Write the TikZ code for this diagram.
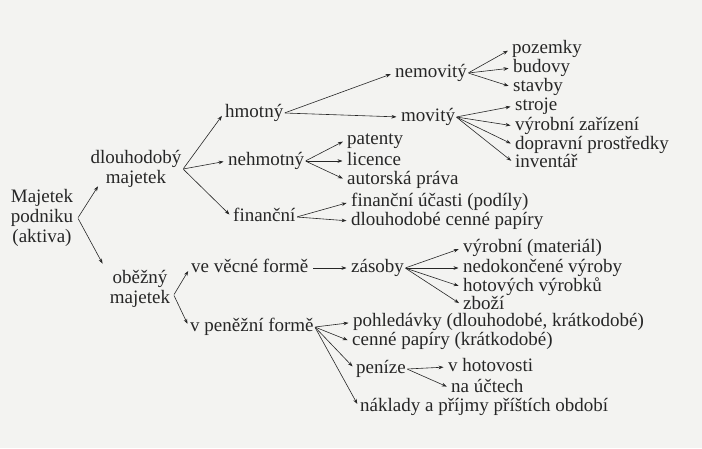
\documentclass[tikz,border=0pt]{standalone}
\usepackage{fontspec}
\setmainfont{Liberation Serif}
\usetikzlibrary{arrows.meta}
\definecolor{paper}{HTML}{F3F3F1}
\definecolor{ink}{HTML}{262626}
\tikzset{
  lbl/.style={anchor=west, inner sep=1pt, text height=10.5pt, text depth=2.5pt, text=ink, font=\fontsize{19}{20}\selectfont},
  mlbl/.style={anchor=center, inner sep=1.5pt, align=center, text=ink, font=\fontsize{19}{20}\selectfont},
  arr/.style={draw=ink, line width=0.6pt, -{Stealth[length=5pt,width=3.6pt]}, shorten >=3.5pt, shorten <=0.5pt}
}
\begin{document}
\begin{tikzpicture}[x=1pt,y=-1pt]
\fill[paper] (0,0) rectangle (702,448);
\useasboundingbox (0,0) rectangle (702,448);
% nodes
\node[mlbl] (mp) at (42,218) {Majetek\\podniku\\(aktiva)};
\node[mlbl] (dm) at (136,169) {dlouhodobý\\majetek};
\node[mlbl] (ob) at (140,289) {oběžný\\majetek};
\node[lbl] (hm) at (224,113) {hmotný};
\node[lbl] (nh) at (227,161) {nehmotný};
\node[lbl] (fi) at (232,217) {finanční};
\node[lbl] (nm) at (394,73) {nemovitý};
\node[lbl] (mo) at (400,117) {movitý};
\node[lbl] (pz) at (511,49) {pozemky};
\node[lbl] (bu) at (512,68) {budovy};
\node[lbl] (st) at (512,87) {stavby};
\node[lbl] (sr) at (514,106) {stroje};
\node[lbl] (vz) at (514,126) {výrobní zařízení};
\node[lbl] (dp) at (514,145) {dopravní prostředky};
\node[lbl] (iv) at (514,163) {inventář};
\node[lbl] (pa) at (346,140) {patenty};
\node[lbl] (li) at (346,161) {licence};
\node[lbl] (au) at (346,180) {autorská práva};
\node[lbl] (fu) at (350,202) {finanční účasti (podíly)};
\node[lbl] (dc) at (350,221) {dlouhodobé cenné papíry};
\node[lbl] (vv) at (190,268) {ve věcné formě};
\node[lbl] (zs) at (350,268) {zásoby};
\node[lbl] (vm) at (462,248) {výrobní (materiál)};
\node[lbl] (nv) at (462,268) {nedokončené výroby};
\node[lbl] (hv) at (462,287) {hotových výrobků};
\node[lbl] (zb) at (462,305) {zboží};
\node[lbl] (pf) at (189,327) {v peněžní formě};
\node[lbl] (ph) at (352,322.5) {pohledávky (dlouhodobé, krátkodobé)};
\node[lbl] (cp) at (351,341.5) {cenné papíry (krátkodobé)};
\node[lbl] (pe) at (355,369) {peníze};
\node[lbl] (ho) at (447,367) {v hotovosti};
\node[lbl] (nu) at (450,388) {na účtech};
\node[lbl] (nk) at (359,407) {náklady a příjmy příštích období};
% connectors
\draw[arr] ([xshift=3pt]mp.east) -- ([shift={(11,-6)}]dm.south west);
\draw[arr] ([xshift=3pt]mp.east) -- ([shift={(-4,-2)}]ob.north west);
\draw[arr] (dm.east) -- (hm.west);
\draw[arr] (dm.east) -- (nh.west);
\draw[arr] (dm.east) -- (fi.west);
\draw[arr] (hm.east) -- (nm.west);
\draw[arr] (hm.east) -- (mo.west);
\draw[arr] (nm.east) -- (pz.west);
\draw[arr] (nm.east) -- (bu.west);
\draw[arr] (nm.east) -- (st.west);
\draw[arr] (mo.east) -- (sr.west);
\draw[arr] (mo.east) -- (vz.west);
\draw[arr] (mo.east) -- (dp.west);
\draw[arr] (mo.east) -- (iv.west);
\draw[arr] (nh.east) -- (pa.west);
\draw[arr] (nh.east) -- (li.west);
\draw[arr] (nh.east) -- (au.west);
\draw[arr] (fi.east) -- (fu.west);
\draw[arr] (fi.east) -- (dc.west);
\draw[arr] ([shift={(2,6)}]ob.east) -- (vv.west);
\draw[arr] ([shift={(2,6)}]ob.east) -- (pf.west);
\draw[arr] ([xshift=3pt]vv.east) -- (zs.west);
\draw[arr] (zs.east) -- (vm.west);
\draw[arr] (zs.east) -- (nv.west);
\draw[arr] (zs.east) -- (hv.west);
\draw[arr] (zs.east) -- (zb.west);
\draw[arr] (pf.east) -- (ph.west);
\draw[arr] (pf.east) -- (cp.west);
\draw[arr] (pf.east) -- (pe.west);
\draw[arr] (pf.east) -- (nk.west);
\draw[arr] (pe.east) -- (ho.west);
\draw[arr] (pe.east) -- (nu.west);
\end{tikzpicture}
\end{document}
